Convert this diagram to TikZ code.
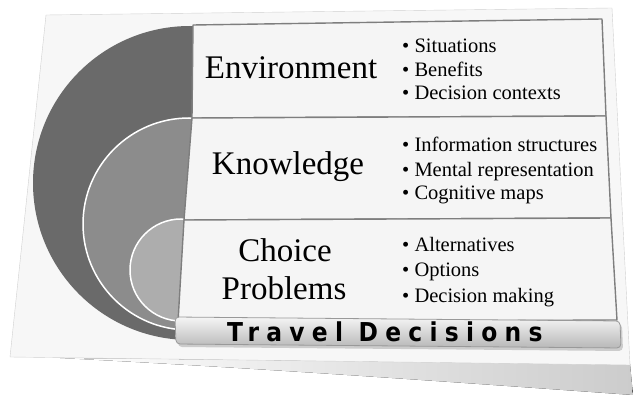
\documentclass[tikz,border=0pt]{standalone}
\usepackage{fontspec}
\setmainfont{Liberation Serif}
\newfontfamily\barfont[LetterSpace=28]{DejaVu Sans Condensed}
\definecolor{ringdark}{HTML}{6A6A6A}
\definecolor{ringmid}{HTML}{8C8C8C}
\definecolor{ringlight}{HTML}{ADADAD}
\definecolor{rowfill}{HTML}{F5F5F5}
\definecolor{rowline}{HTML}{7E7E7E}
\definecolor{paper}{HTML}{F7F7F7}

\begin{document}
\begin{tikzpicture}[x=1pt, y=-1pt, line join=round, line cap=round,
    title/.style={font=\fontsize{33}{38}\selectfont, anchor=base, inner sep=0pt},
    item/.style={font=\fontsize{20.5}{24}\selectfont, anchor=base west, inner sep=0pt},
    row/.style={fill=rowfill, draw=rowline, line width=1.4pt}]
	\useasboundingbox (0,0) rectangle (633,398);
	% sheet and its shadow
	\fill[left color=white, right color=black!20] (60,358) -- (630,364) -- (633,395) .. controls (480,384) and (260,368) .. cycle;
	\draw[fill=paper, draw=black!18] (46,15) -- (612,8) -- (630,365) -- (10,357) -- cycle;
	% rings
	\fill[ringdark] (190,183) circle (157);
	\draw[fill=ringmid, draw=white, line width=1.5pt] (189,224) circle (106);
	\draw[fill=ringlight, draw=white, line width=1.5pt] (181,270) circle (51);
	% table corners
	\coordinate (TL) at (193,25);
	\coordinate (TR) at (602,19);
	\coordinate (L1) at (192,118);
	\coordinate (R1) at (606,116);
	\coordinate (L2) at (184,220);
	\coordinate (R2) at (611,218);
	\coordinate (BL) at (178,322);
	\coordinate (BR) at (617,320);
	\draw[row] (TL) -- (TR) -- (R1) -- (L1) -- cycle;
	\draw[row] (L1) -- (R1) -- (R2) -- (L2) -- cycle;
	\draw[row] (L2) -- (R2) -- (BR) -- (BL) -- cycle;
	% bottom bar
	\fill[black!20, rounded corners=4pt] (177,320) -- (622,324) -- (623,351) -- (178,347) -- cycle;
	\draw[top color=black!4, bottom color=black!28, draw=black!40, line width=0.8pt, rounded corners=4pt]
		(175,317) -- (620,321) -- (621,348) -- (176,344) -- cycle;
	% titles
	\node[title] (env) at (291,79) {Environment};
	\node[title] (know) at (288,175) {Knowledge};
	\node[title] (choice) at (285,262) {Choice};
	\node[title] (prob) at (284,300) {Problems};
	% bullet lists
	\node[item] (envA) at (402,53) {\textbullet\ Situations};
	\node[item] (envB) at (402,77) {\textbullet\ Benefits};
	\node[item] (envC) at (402,100) {\textbullet\ Decision contexts};
	\node[item] (knowA) at (402,152) {\textbullet\ Information structures};
	\node[item] (knowB) at (402,177) {\textbullet\ Mental representation};
	\node[item] (knowC) at (402,200) {\textbullet\ Cognitive maps};
	\node[item] (choiceA) at (402,252) {\textbullet\ Alternatives};
	\node[item] (choiceB) at (402,277) {\textbullet\ Options};
	\node[item] (choiceC) at (402,303) {\textbullet\ Decision making};
	% bar label
	\node[anchor=base west, inner sep=0pt, font=\barfont\bfseries\fontsize{26}{28}\selectfont] (travel) at (227,342) {Travel Decisions};
\end{tikzpicture}
\end{document}
